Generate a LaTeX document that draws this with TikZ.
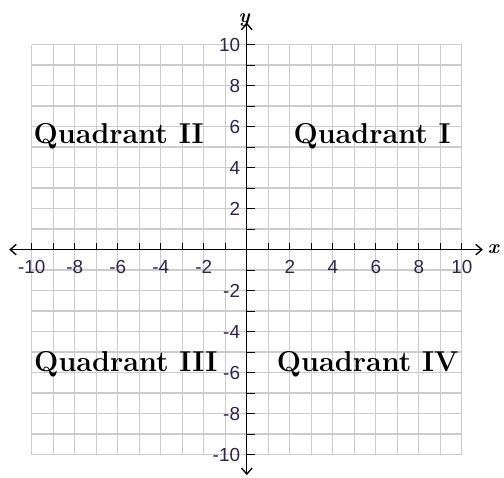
\documentclass[tikz,border=0pt]{standalone}
\usepackage{fontspec}
\newfontfamily\numfont{Liberation Sans}
\usetikzlibrary{arrows.meta}
\definecolor{gridgray}{RGB}{204,204,204}
\definecolor{numcol}{RGB}{45,35,75}
\tikzset{
  ticklabel/.style={font=\numfont\fontsize{12.5}{14}\selectfont, text=numcol, inner sep=0pt},
  quadlabel/.style={font=\fontsize{19}{22}\selectfont\bfseries, inner sep=0pt, anchor=base west},
  axislabel/.style={font=\fontsize{13}{15}\selectfont\bfseries\itshape, inner sep=0pt},
  barb/.tip={Straight Barb[length=4pt,width=7pt]},
}
\begin{document}
\begin{tikzpicture}[x=0.5cm, y=0.47674cm]
  \useasboundingbox (-11.479,-11.093) rectangle (11.963,12.176);

  % grid
  \draw[gridgray, line width=0.9pt, step={(1,1)}] (-10,-10) grid (10,10);

  % axes with open arrow heads
  \draw[line width=0.9pt, barb-barb] (-11.05,0) -- (10.98,0);
  \draw[line width=0.9pt, barb-barb] (0,-11.0) -- (0,11.07);

  % ticks
  \foreach \i in {-10,...,-1,1,2,...,10} {
    \draw[line width=0.8pt] (\i,0) -- ++(0,0.34);
    \draw[line width=0.8pt] (0,\i) -- ++(0.38,0);
  }

  % tick labels
  \foreach \i in {-10,-8,-6,-4,-2,2,4,6,8,10} {
    \node[ticklabel] (xl\i) at (\i,-0.83) {\i};
    \node[ticklabel, anchor=east] (yl\i) at (-0.3,\i) {\i};
  }

  % axis names
  \node[axislabel, anchor=south] (ylab) at (-0.12,10.85) {y};
  \node[axislabel, anchor=west] (xlab) at (11.2,0) {x};

  % quadrant names
  \node[quadlabel] (q2) at (-9.93,5.17) {Quadrant II};
  \node[quadlabel] (q1) at (2.16,5.17) {Quadrant I};
  \node[quadlabel] (q3) at (-9.90,-5.96) {Quadrant III};
  \node[quadlabel] (q4) at (1.39,-5.96) {Quadrant IV};
\end{tikzpicture}
\end{document}
